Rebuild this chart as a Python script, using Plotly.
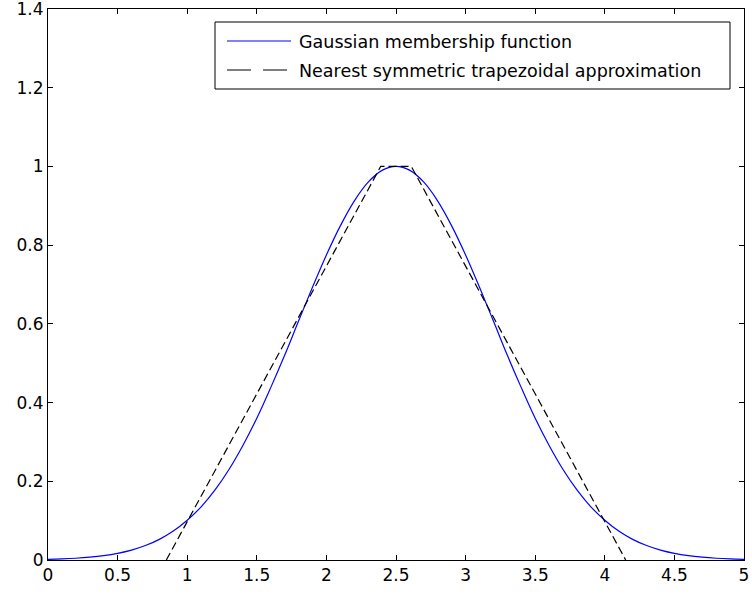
import plotly.graph_objects as go

# Gaussian membership function values
x_gauss = [round(i * 0.1, 1) for i in range(51)]
y_gauss = [0.0017, 0.0028, 0.0045, 0.0072, 0.0111, 0.0169, 0.0251, 0.0367, 0.0524, 0.0734,
           0.101, 0.135, 0.178, 0.230, 0.291, 0.360, 0.438, 0.520, 0.607, 0.693,
           0.775, 0.849, 0.912, 0.960, 0.990, 1.000, 0.990, 0.960, 0.912, 0.849,
           0.775, 0.693, 0.607, 0.520, 0.438, 0.360, 0.291, 0.230, 0.178, 0.135,
           0.101, 0.0734, 0.0524, 0.0367, 0.0251, 0.0169, 0.0111, 0.0072, 0.0045, 0.0028,
           0.0017]

# Nearest symmetric trapezoidal approximation (corner points)
x_trap = [0.85, 2.39, 2.61, 4.15]
y_trap = [0, 1, 1, 0]

x_ticks = [0, 0.5, 1, 1.5, 2, 2.5, 3, 3.5, 4, 4.5, 5]
x_ticklabels = ["0", "0.5", "1", "1.5", "2", "2.5", "3", "3.5", "4", "4.5", "5"]
y_ticks = [0, 0.2, 0.4, 0.6, 0.8, 1, 1.2, 1.4]
y_ticklabels = ["0", "0.2", "0.4", "0.6", "0.8", "1", "1.2", "1.4"]

series_names = ["Gaussian membership function", "Nearest symmetric trapezoidal approximation"]
series_colors = ["#0000ff", "black"]
series_dash = ["solid", "8px,4px"]

W, H = 752, 595
ML, MR, MT, MB = 48, 8, 9, 35
PW, PH = W - ML - MR, H - MT - MB


def px(xp):
    return (xp - ML) / PW


def py(yp):
    return (H - MB - yp) / PH


fig = go.Figure()
fig.add_trace(go.Scatter(x=x_gauss, y=y_gauss, mode="lines", name=series_names[0],
                         line=dict(color=series_colors[0], width=1.2, shape="spline"),
                         showlegend=False))
fig.add_trace(go.Scatter(x=x_trap, y=y_trap, mode="lines", name=series_names[1],
                         line=dict(color=series_colors[1], width=1.2, dash=series_dash[1]),
                         showlegend=False))

# Manual MATLAB-style legend box
shapes = [dict(type="rect", xref="paper", yref="paper",
               x0=px(215), x1=px(730), y0=py(89), y1=py(22),
               line=dict(color="black", width=1), fillcolor="white", layer="above")]
annotations = []
row_y = [41, 70]
for i, name in enumerate(series_names):
    dash = "solid" if i == 0 else "24px,12px"
    shapes.append(dict(type="line", xref="paper", yref="paper",
                       x0=px(227), x1=px(291), y0=py(row_y[i]), y1=py(row_y[i]),
                       line=dict(color=series_colors[i], width=1.2, dash=dash), layer="above"))
    annotations.append(dict(xref="paper", yref="paper", x=px(297), y=py(row_y[i] + 1),
                            xanchor="left", yanchor="middle", showarrow=False, text=name,
                            font=dict(family="DejaVu Sans", size=17.5, color="black")))

axis_common = dict(showline=True, linecolor="black", linewidth=1, mirror="allticks",
                   ticks="inside", ticklen=5, tickcolor="black", showgrid=False,
                   zeroline=False, automargin=False,
                   tickfont=dict(family="DejaVu Sans", size=17, color="black"))

fig.update_layout(
    width=W, height=H,
    margin=dict(l=ML, r=MR, t=MT, b=MB, autoexpand=False),
    paper_bgcolor="white", plot_bgcolor="white",
    font=dict(family="DejaVu Sans", color="black"),
    xaxis=dict(range=[0, 5], tickvals=x_ticks, ticktext=x_ticklabels,
               ticklabeloverflow="allow", **axis_common),
    yaxis=dict(range=[0, 1.4], tickvals=y_ticks, ticktext=y_ticklabels,
               ticklabeloverflow="allow", **axis_common),
    shapes=shapes,
    annotations=annotations,
    showlegend=False,
)

fig.write_html("out.html")
